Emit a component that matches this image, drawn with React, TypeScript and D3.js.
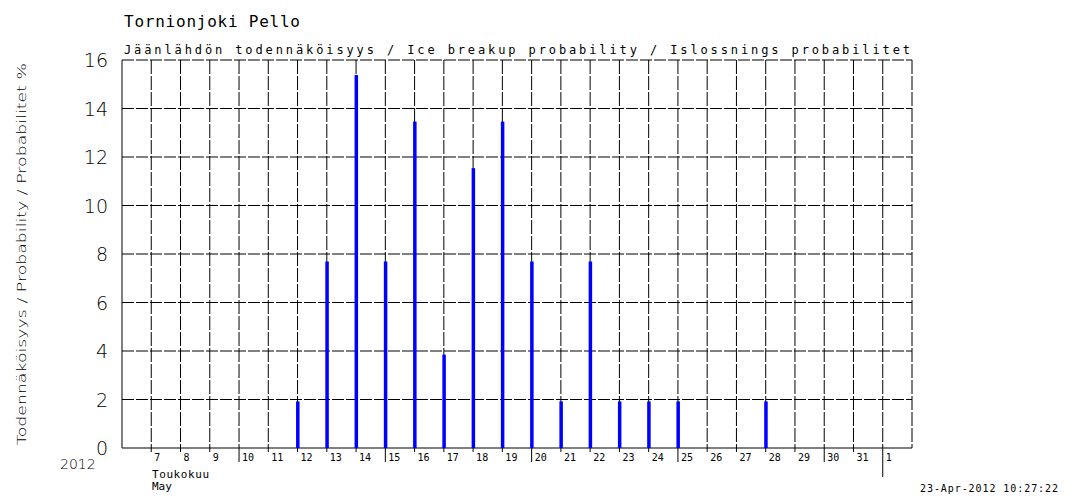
import React from "react";
import * as d3 from "d3";

const days = ["2012-05-12", "2012-05-13", "2012-05-14", "2012-05-15", "2012-05-16", "2012-05-17", "2012-05-18", "2012-05-19", "2012-05-20", "2012-05-21", "2012-05-22", "2012-05-23", "2012-05-24", "2012-05-25", "2012-05-28"];
const probability = [1.92, 7.69, 15.38, 7.69, 13.46, 3.85, 11.54, 13.46, 7.69, 1.92, 7.69, 1.92, 1.92, 1.92, 1.92];
const yTicks = [0, 2, 4, 6, 8, 10, 12, 14, 16];

const title = "Tornionjoki Pello";
const subtitle = "Jäänlähdön todennäköisyys / Ice breakup probability / Islossnings probabilitet";
const yLabel = "Todennäköisyys / Probability / Probabilitet %";
const stamp = "23-Apr-2012 10:27:22";

const width = 1072;
const height = 496;
const left = 122;
const right = 912;
const top = 60;
const bottom = 448;

const parse = d3.utcParse("%Y-%m-%d");

const x = d3
  .scaleUtc()
  .domain([new Date(Date.UTC(2012, 4, 6)), new Date(Date.UTC(2012, 5, 2))])
  .range([left, right]);

const y = d3.scaleLinear().domain([0, 16]).range([bottom, top]);

const mono = "'DejaVu Sans Mono', monospace";
const sans = "'DejaVu Sans', sans-serif";

const App = () => {
  const [d0, d1] = x.domain();
  const dayTicks = x.ticks(d3.utcDay.every(1)!).filter((d) => +d > +d0 && +d < +d1);
  return (
    <svg width={width} height={height} style={{ position: "absolute", left: 0, top: 0, background: "#fff" }}>
      <text x={124} y={27} fontFamily={mono} fontSize={16} textLength={176} lengthAdjust="spacing">
        {title}
      </text>
      <text x={124} y={54} fontFamily={mono} fontSize={12} textLength={786} lengthAdjust="spacing">
        {subtitle}
      </text>

      {/* grid */}
      {yTicks.slice(1).map((t) => (
        <line key={"h" + t} x1={left} x2={right} y1={y(t)} y2={y(t)} stroke="#000" strokeDasharray="12,2" />
      ))}
      {[...dayTicks, d1].map((d) => (
        <line key={"v" + +d} x1={x(d)} x2={x(d)} y1={top} y2={bottom} stroke="#000" strokeDasharray="14,2" />
      ))}
      <line x1={left} x2={left} y1={top} y2={bottom} stroke="#000" />
      <line x1={left} x2={right} y1={bottom} y2={bottom} stroke="#000" />

      {/* y axis */}
      {yTicks.map((t) => (
        <text key={"yl" + t} x={108} y={y(t) + 7} textAnchor="end" fontFamily={sans} fontWeight={200} fontSize={19}>
          {t}
        </text>
      ))}
      <text
        transform={`translate(26, ${(top + bottom) / 2}) rotate(-90)`}
        textAnchor="middle"
        fontFamily={sans}
        fontWeight={200}
        fontSize={13}
        textLength={382}
        lengthAdjust="spacingAndGlyphs"
      >
        {yLabel}
      </text>

      {/* bars */}
      {days.map((d, i) => (
        <rect key={d} x={x(parse(d)!) - 1.5} width={3.5} y={y(probability[i])} height={bottom - y(probability[i])} fill="#0000ff" />
      ))}

      {/* x axis */}
      {dayTicks.map((d) => {
        const day = d.getUTCDate();
        const isJune = d.getUTCMonth() === 5;
        const len = isJune ? 29 : day % 5 === 0 ? 14 : 4;
        return (
          <g key={"xt" + +d}>
            <line x1={x(d)} x2={x(d)} y1={bottom} y2={bottom + len} stroke="#000" />
            <text x={x(d) + 3} y={bottom + 13} fontFamily={mono} fontSize={10}>
              {day}
            </text>
          </g>
        );
      })}
      <text x={60} y={469} fontFamily={sans} fontWeight={200} fontSize={14}>2012</text>
      <text x={152} y={478} fontFamily={mono} fontSize={11} textLength={57} lengthAdjust="spacing">Toukokuu</text>
      <text x={152} y={490} fontFamily={mono} fontSize={11}>May</text>
      <text x={920} y={492} fontFamily={mono} fontSize={10} textLength={138} lengthAdjust="spacing">{stamp}</text>
    </svg>
  );
};

export default App;
